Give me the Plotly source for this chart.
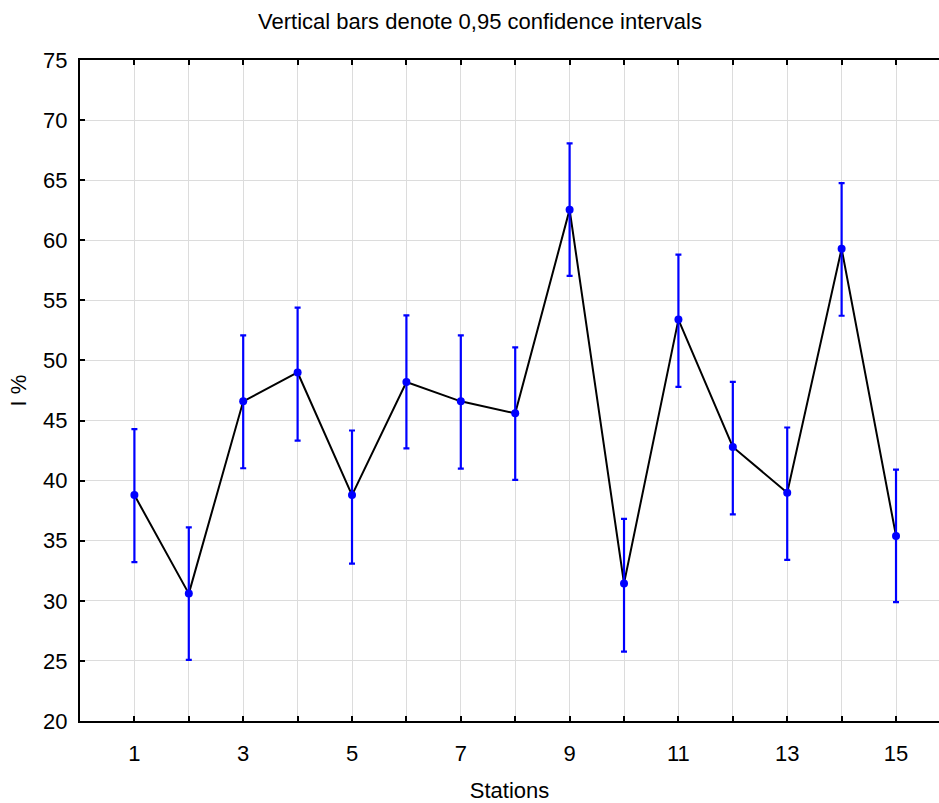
import plotly.graph_objects as go

stations = list(range(1, 16))
tick_labels = ["1", "", "3", "", "5", "", "7", "", "9", "", "11", "", "13", "", "15"]
means = [38.8, 30.6, 46.6, 49.0, 38.8, 48.2, 46.6, 45.6, 62.55, 31.45, 53.4, 42.8, 39.0, 59.3, 35.4]
upper = [44.28, 36.11, 52.08, 54.39, 44.17, 53.75, 52.08, 51.08, 68.06, 36.81, 58.81, 48.22, 44.42, 64.75, 40.92]
lower = [33.22, 25.08, 41.03, 43.33, 33.1, 42.69, 41.0, 40.06, 57.03, 25.78, 47.8, 37.19, 33.4, 53.72, 29.89]

err_plus = [u - m for u, m in zip(upper, means)]
err_minus = [m - l for m, l in zip(means, lower)]

fig = go.Figure()
fig.add_trace(go.Scatter(
    x=stations, y=means, mode="lines",
    line=dict(color="black", width=2),
    showlegend=False, hoverinfo="skip"))
fig.add_trace(go.Scatter(
    x=stations, y=means, mode="markers",
    marker=dict(color="#0000ff", size=8),
    error_y=dict(type="data", symmetric=False, array=err_plus, arrayminus=err_minus,
                 color="#0000ff", thickness=2.2, width=3),
    showlegend=False))

fnt = "Liberation Sans, Arial, sans-serif"
fig.update_layout(
    width=939, height=803,
    margin=dict(l=80, r=0, t=60, b=82),
    paper_bgcolor="white", plot_bgcolor="white",
    font=dict(family=fnt, color="black"),
    title=dict(text="Vertical bars denote 0,95 confidence intervals",
               x=480 / 939, xanchor="center", y=1 - 21 / 803, yanchor="middle",
               font=dict(size=22, family=fnt, color="black")),
    xaxis=dict(range=[0, 15.79], tickmode="array", tickvals=stations, ticktext=tick_labels,
               ticks="inside", ticklen=5, tickwidth=2, tickcolor="black",
               showline=True, linewidth=2, linecolor="black", mirror="ticks",
               showgrid=True, gridcolor="#dcdcdc", gridwidth=1, zeroline=False,
               tickfont=dict(size=22), ticklabelstandoff=12,
               title=dict(text="Stations", font=dict(size=22), standoff=22)),
    yaxis=dict(range=[20, 75], tickmode="array", tickvals=list(range(20, 80, 5)),
               ticks="inside", ticklen=5, tickwidth=2, tickcolor="black",
               showline=True, linewidth=2, linecolor="black", mirror=False,
               showgrid=True, gridcolor="#dcdcdc", gridwidth=1, zeroline=False,
               tickfont=dict(size=22), ticklabelstandoff=6,
               title=dict(text="I %", font=dict(size=22), standoff=10)),
)

fig.write_html("out.html")
